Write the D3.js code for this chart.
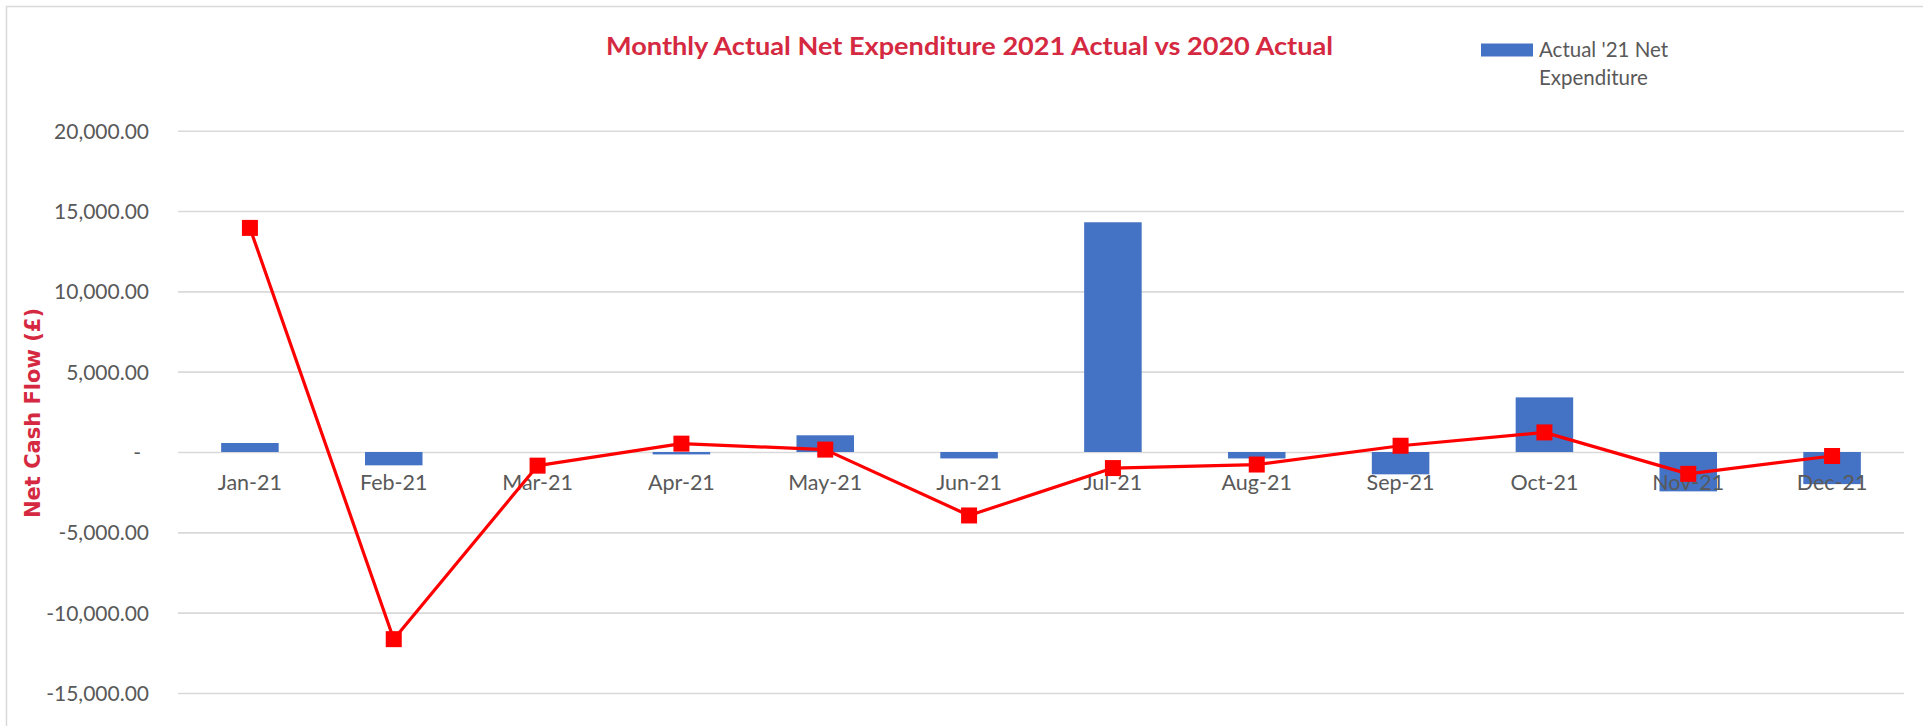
<!DOCTYPE html>
<html>
<head>
<meta charset="utf-8">
<script src="https://cdn.jsdelivr.net/npm/d3@7"></script>
<style>
    body { margin: 0; background: #fff; }
    svg { display: block; }
</style>
</head>
<body>
<svg id="chart" width="1923" height="726"></svg>
<script>
// values
var months = ["Jan-21", "Feb-21", "Mar-21", "Apr-21", "May-21", "Jun-21",
              "Jul-21", "Aug-21", "Sep-21", "Oct-21", "Nov-21", "Dec-21"];
var actual21 = [560, -830, 0, -150, 1040, -400, 14300, -400, -1390, 3400, -2450, -2000];
var actual20 = [13950, -11650, -850, 520, 150, -3950, -1000, -780, 390, 1220, -1360, -250];
var yTicks = [-15000, -10000, -5000, 0, 5000, 10000, 15000, 20000];

var titleText = "Monthly Actual Net Expenditure 2021 Actual vs 2020 Actual";
var yTitle = "Net Cash Flow (£)";
var legendLines = ["Actual '21 Net", "Expenditure"];

var red = "#D52941";
var grey = "#595959";

var svg = d3.select("#chart");

// outer chart border (runs off the picture on the right and bottom)
svg.append("rect")
    .attr("x", 6.5).attr("y", 6.5)
    .attr("width", 1940).attr("height", 760)
    .attr("fill", "none")
    .attr("stroke", "#D9D9D9")
    .attr("stroke-width", 1.5);

var x = d3.scaleBand()
    .domain(months)
    .range([178, 1904])
    .paddingInner(0.6)
    .paddingOuter(0.3);

var y = d3.scaleLinear()
    .domain([-20000, 20000])
    .range([773.3, 130.7]);

var fmt = d3.formatLocale({decimal: ".", thousands: ",", grouping: [3], currency: ["£", ""], minus: "-"}).format(",.2f");

// gridlines + y labels
var yAxis = d3.axisLeft(y)
    .tickValues(yTicks)
    .tickSize(-(1904 - 178))
    .tickPadding(29)
    .tickFormat((d) => d == 0 ? "-" : fmt(d));

var gy = svg.append("g")
    .attr("transform", "translate(178,0)")
    .call(yAxis);
gy.select(".domain").remove();
gy.selectAll(".tick line")
    .attr("stroke", "#D9D9D9")
    .attr("stroke-width", 1.6);
gy.selectAll(".tick text")
    .attr("fill", grey)
    .attr("font-family", "Lato, sans-serif")
    .attr("font-size", "21px")
    .attr("dy", "0.36em");
// zero label is a dash padded like the accounting format
gy.selectAll(".tick text").filter((d) => d == 0).attr("x", -37);

// bars
svg.append("g").selectAll("rect")
    .data(actual21)
    .join("rect")
    .attr("x", (d, i) => x(months[i]))
    .attr("y", (d) => y(Math.max(0, d)))
    .attr("width", x.bandwidth())
    .attr("height", (d) => Math.abs(y(d) - y(0)))
    .attr("fill", "#4472C4");

// category labels sit under the zero line, drawn over the bars
svg.append("g").selectAll("text")
    .data(months)
    .join("text")
    .attr("x", (d) => x(d) + x.bandwidth() / 2)
    .attr("y", 490)
    .attr("text-anchor", "middle")
    .attr("fill", grey)
    .attr("font-family", "Lato, sans-serif")
    .attr("font-size", "21.5px")
    .text((d) => d);

// line with square markers
var line = d3.line()
    .x((d, i) => x(months[i]) + x.bandwidth() / 2)
    .y((d) => y(d));

svg.append("path")
    .datum(actual20)
    .attr("d", line)
    .attr("fill", "none")
    .attr("stroke", "#FF0000")
    .attr("stroke-width", 3.2)
    .attr("stroke-linejoin", "round");

var mk = 16;
svg.append("g").selectAll("rect")
    .data(actual20)
    .join("rect")
    .attr("x", (d, i) => x(months[i]) + x.bandwidth() / 2 - mk / 2)
    .attr("y", (d) => y(d) - mk / 2)
    .attr("width", mk)
    .attr("height", mk)
    .attr("fill", "#FF0000");

// title
svg.append("text")
    .attr("x", 969.5)
    .attr("y", 54.5)
    .attr("text-anchor", "middle")
    .attr("fill", red)
    .attr("font-family", "Lato, sans-serif")
    .attr("font-weight", "bold")
    .attr("font-size", "24.5px")
    .attr("textLength", 727)
    .attr("lengthAdjust", "spacingAndGlyphs")
    .text(titleText);

// y axis title
svg.append("text")
    .attr("transform", "translate(32,413) rotate(-90)")
    .attr("text-anchor", "middle")
    .attr("dy", "0.36em")
    .attr("fill", red)
    .attr("font-family", "'DejaVu Sans', sans-serif")
    .attr("font-weight", "bold")
    .attr("font-size", "21px")
    .text(yTitle);

// legend (bar series only)
svg.append("rect")
    .attr("x", 1481).attr("y", 43.5)
    .attr("width", 52).attr("height", 13)
    .attr("fill", "#4472C4");

svg.append("g").selectAll("text")
    .data(legendLines)
    .join("text")
    .attr("x", 1539)
    .attr("y", (d, i) => 57.3 + i * 28)
    .attr("fill", grey)
    .attr("font-family", "Lato, sans-serif")
    .attr("font-size", "20.5px")
    .text((d) => d);
</script>
</body>
</html>
